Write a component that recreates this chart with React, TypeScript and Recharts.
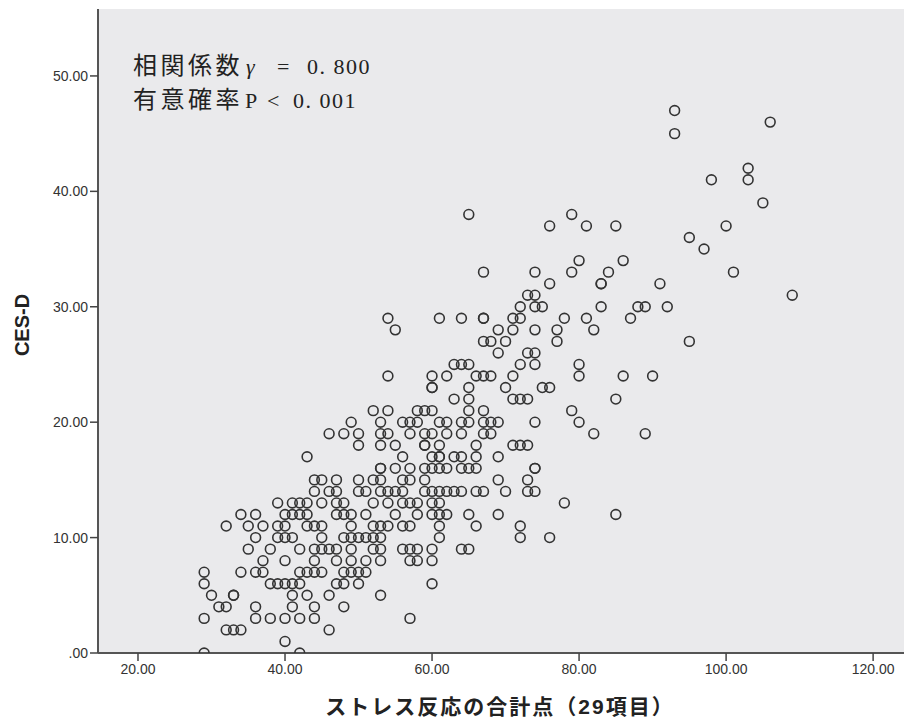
import React from 'react';
import { ScatterChart, Scatter, XAxis, YAxis, CartesianGrid, Customized } from 'recharts';

// CES-D score levels (y) and the stress-response totals (x) observed at each level
const cesdLevels = [
  0, 1, 2, 3, 4, 5, 6, 7, 8, 9, 10, 11, 12, 13, 14, 15, 16, 17, 18, 19, 20, 21, 22, 23, 24,
  25, 26, 27, 28, 29, 30, 31, 32, 33, 34, 35, 36, 37, 38, 39, 40, 41, 42, 43, 44, 45, 46, 47,
];
const stressByLevel: number[][] = [
  [29, 42],
  [40],
  [32, 33, 34, 46],
  [29, 36, 38, 40, 42, 44, 57],
  [31, 32, 36, 41, 44, 48],
  [30, 33, 33, 41, 43, 46, 53],
  [29, 38, 39, 40, 41, 42, 47, 48, 50, 60],
  [29, 34, 36, 37, 42, 43, 44, 45, 48, 49, 50, 51],
  [37, 40, 44, 47, 49, 51, 53, 57, 58, 60],
  [35, 38, 42, 44, 45, 46, 47, 49, 52, 53, 56, 57, 58, 60, 64, 65],
  [36, 39, 40, 41, 45, 48, 49, 50, 51, 52, 53, 61, 72, 76],
  [32, 35, 37, 39, 40, 43, 44, 45, 49, 52, 53, 54, 56, 57, 61, 66, 72],
  [34, 36, 40, 41, 42, 43, 47, 48, 49, 51, 55, 58, 60, 61, 62, 65, 69, 85],
  [39, 41, 42, 43, 45, 47, 48, 52, 54, 56, 57, 58, 60, 61, 78],
  [44, 46, 47, 50, 51, 53, 54, 55, 56, 59, 60, 61, 62, 63, 64, 66, 67, 70, 73, 74],
  [44, 45, 47, 50, 52, 53, 56, 57, 59, 69, 73],
  [53, 53, 55, 57, 59, 60, 61, 62, 64, 65, 66, 74, 74],
  [43, 56, 60, 61, 61, 63, 64, 66, 69],
  [50, 53, 55, 59, 59, 61, 66, 71, 72, 73],
  [46, 48, 50, 53, 54, 57, 59, 60, 62, 64, 67, 68, 82, 89],
  [49, 53, 56, 57, 58, 61, 62, 64, 65, 67, 68, 69, 74, 80],
  [52, 54, 58, 59, 60, 65, 67, 79],
  [63, 65, 71, 72, 73, 85],
  [60, 60, 65, 70, 75, 76],
  [54, 60, 62, 66, 67, 68, 71, 80, 86, 90],
  [63, 64, 65, 72, 74, 80],
  [69, 73, 74],
  [67, 68, 70, 77, 95],
  [55, 69, 71, 74, 77, 82],
  [54, 61, 64, 67, 67, 71, 72, 78, 81, 87],
  [72, 74, 75, 83, 88, 89, 92],
  [73, 74, 109],
  [76, 83, 83, 91],
  [67, 74, 79, 84, 101],
  [80, 86],
  [97],
  [95],
  [76, 81, 85, 100],
  [65, 79],
  [105],
  [],
  [98, 103],
  [103],
  [],
  [],
  [93],
  [106],
  [93],
];

const xTicks = [20, 40, 60, 80, 100, 120];
const yTicks = [0, 10, 20, 30, 40, 50];
const xDomain: [number, number] = [14.56, 124.2];
const yDomain: [number, number] = [0, 55.8];

const xTitle = 'ストレス反応の合計点（29項目）';
const yTitle = 'CES-D';
const noteLine1 = ['相関係数', 'γ', '=', '0. 800'];
const noteLine2 = ['有意確率', 'P', '<', '0. 001'];

const points = cesdLevels.flatMap((y, i) => (stressByLevel[i] || []).map((x) => ({ x, y })));

const fmtY = (v: number) => (v === 0 ? '.00' : v.toFixed(2));
const fmtX = (v: number) => v.toFixed(2);

const Ring = (props: any) => {
  const { cx, cy } = props;
  if (cx == null || cy == null) return null;
  return <circle cx={cx} cy={cy} r={4.9} fill="none" stroke="#333" strokeWidth={1.6} />;
};

const cjk = "'Noto Sans CJK JP', sans-serif";
const serif = "'Liberation Serif', 'DejaVu Serif', serif";

const NoteLine = ({ parts, y, xs, italic }: { parts: string[]; y: number; xs: number[]; italic: boolean }) => (
  <text y={y} fontSize={22} fill="#222">
    <tspan x={xs[0]} fontFamily={cjk} fontSize={24} letterSpacing={3.5}>{parts[0]}</tspan>
    <tspan x={xs[1]} fontFamily={serif} fontStyle={italic ? 'italic' : 'normal'}>{parts[1]}</tspan>
    <tspan x={xs[2]} fontFamily={serif}>{parts[2]}</tspan>
    <tspan x={xs[3]} fontFamily={serif} letterSpacing={1.5}>{parts[3]}</tspan>
  </text>
);

const Texts = () => (
  <g>
    <text
      x={22}
      y={325}
      transform="rotate(-90 22 325)"
      textAnchor="middle"
      dominantBaseline="central"
      fontFamily="'Liberation Sans', Arial, sans-serif"
      fontWeight="bold"
      fontSize={20}
      fill="#222"
    >
      {yTitle}
    </text>
    <text
      x={500}
      y={714}
      textAnchor="middle"
      fontFamily="'Liberation Sans', 'Noto Sans CJK JP', sans-serif"
      fontWeight="bold"
      fontSize={21}
      letterSpacing={2}
      fill="#222"
    >
      {xTitle}
    </text>
    <NoteLine parts={noteLine1} y={74} xs={[133, 246, 277, 307]} italic />
    <NoteLine parts={noteLine2} y={108} xs={[133, 245, 267, 293]} italic={false} />
  </g>
);

export default function App() {
  return (
    <div style={{ position: 'absolute', left: 0, top: 0, width: 907, height: 723, background: '#fff' }}>
      <ScatterChart width={907} height={723} margin={{ top: 9, right: 3, left: 0, bottom: 0 }}>
        <CartesianGrid fill="#EAEAEC" horizontal={false} vertical={false} />
        <XAxis
          dataKey="x"
          type="number"
          domain={xDomain}
          ticks={xTicks}
          allowDataOverflow
          tickFormatter={fmtX}
          height={70}
          tickSize={8}
          tickMargin={3}
          tick={{ fontSize: 14, fill: '#333', fontFamily: "'Liberation Sans', Arial, sans-serif" }}
          tickLine={{ stroke: '#444', strokeWidth: 1.5 }}
          axisLine={{ stroke: '#555', strokeWidth: 2 }}
        />
        <XAxis
          xAxisId="top"
          orientation="top"
          type="number"
          domain={xDomain}
          height={0}
          tick={false}
          tickLine={false}
          axisLine={{ stroke: '#888', strokeWidth: 1 }}
        />
        <YAxis
          dataKey="y"
          type="number"
          domain={yDomain}
          ticks={yTicks}
          allowDataOverflow
          tickFormatter={fmtY}
          width={98}
          tickSize={8}
          tickMargin={2}
          tick={{ fontSize: 14, fill: '#333', fontFamily: "'Liberation Sans', Arial, sans-serif" }}
          tickLine={{ stroke: '#444', strokeWidth: 1.5 }}
          axisLine={{ stroke: '#555', strokeWidth: 2 }}
        />
        <YAxis
          yAxisId="right"
          orientation="right"
          type="number"
          domain={yDomain}
          width={0}
          tick={false}
          tickLine={false}
          axisLine={{ stroke: '#888', strokeWidth: 1 }}
        />
        <Scatter data={points} shape={Ring} isAnimationActive={false} />
        <Customized component={Texts} />
      </ScatterChart>
    </div>
  );
}
